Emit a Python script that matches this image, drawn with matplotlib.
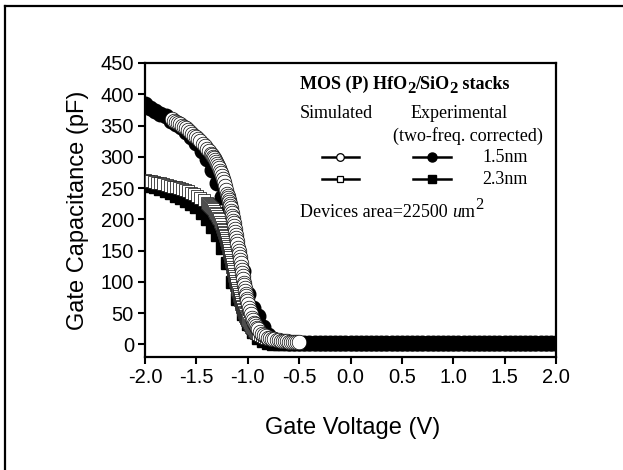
import matplotlib
matplotlib.use("Agg")
import matplotlib.pyplot as plt
from matplotlib.lines import Line2D

# ---- data -------------------------------------------------------------
# Simulated C-V, 1.5 nm stack (open circles); the solver output is denser
# where the curve is steep.
sim15_v = [-1.74, -1.72, -1.70, -1.68, -1.66, -1.64, -1.62, -1.60, -1.58, -1.56,
           -1.54, -1.52, -1.50, -1.48, -1.46, -1.44, -1.42, -1.40, -1.38, -1.36,
           -1.35, -1.34, -1.33, -1.32, -1.31, -1.30, -1.29, -1.28, -1.27, -1.26,
           -1.25, -1.24, -1.23, -1.22, -1.21,
           -1.200, -1.195, -1.190, -1.185, -1.180, -1.175, -1.170, -1.165, -1.160, -1.155,
           -1.150, -1.145, -1.140, -1.135, -1.130, -1.125, -1.120, -1.115, -1.110, -1.105,
           -1.100, -1.095, -1.090, -1.085, -1.080, -1.075, -1.070, -1.065, -1.060, -1.055,
           -1.050, -1.045, -1.040, -1.035, -1.030, -1.025, -1.020, -1.015, -1.010, -1.005,
           -1.000,
           -0.99, -0.98, -0.97, -0.96, -0.95, -0.94, -0.93, -0.92, -0.91, -0.90,
           -0.88, -0.86, -0.84, -0.82, -0.80, -0.78, -0.76, -0.74, -0.72, -0.70,
           -0.68, -0.66, -0.64, -0.62, -0.60, -0.58, -0.56, -0.54, -0.52, -0.50]
sim15_c = [360, 358, 356, 354, 352, 350, 348, 346, 343, 340,
           337, 334, 331, 328, 325, 321, 317, 313, 309, 305,
           302.5, 300, 297.5, 295, 292, 289, 285.5, 282, 278, 274,
           269.5, 265, 259.5, 254, 247.5,
           241, 237.8, 234.5, 231.3, 228, 224.5, 221, 217.5, 214, 210,
           206, 202, 198, 193.5, 189, 184.5, 180, 175, 170, 165,
           160, 155, 150, 145, 140, 134.8, 129.5, 124.3, 119, 114,
           109, 104, 99, 94.5, 90, 85.5, 81, 77, 73, 69,
           65,
           59, 53, 48, 43, 39, 35, 32, 29, 26.5, 24,
           20, 17, 15, 13, 11, 10, 9, 8, 7, 6.5,
           6, 5.5, 5, 5, 4.5, 4, 4, 4, 3.5, 3.5]

# Simulated C-V, 2.3 nm stack (open squares)
sim23_v = [-2.00, -1.97, -1.94, -1.91, -1.88, -1.85, -1.82, -1.79, -1.76, -1.73,
           -1.70, -1.67, -1.64, -1.61, -1.58, -1.55, -1.52, -1.49, -1.46, -1.43,
           -1.40,
           -1.39, -1.38, -1.37, -1.36, -1.35, -1.34, -1.33, -1.32, -1.31, -1.30,
           -1.29, -1.28, -1.27, -1.26, -1.25,
           -1.245, -1.240, -1.235, -1.230, -1.225, -1.220, -1.215, -1.210, -1.205, -1.200,
           -1.195, -1.190, -1.185, -1.180, -1.175, -1.170, -1.165, -1.160, -1.155, -1.150,
           -1.145, -1.140, -1.135, -1.130, -1.125, -1.120, -1.115, -1.110, -1.105, -1.100,
           -1.095, -1.090, -1.085, -1.080, -1.075, -1.070, -1.065, -1.060, -1.055, -1.050,
           -1.045, -1.040, -1.035, -1.030, -1.025, -1.020, -1.015, -1.010, -1.005,
           -1.00, -0.99, -0.98, -0.97, -0.96, -0.95, -0.94, -0.93, -0.92, -0.91,
           -0.90,
           -0.88, -0.86, -0.84, -0.82, -0.80, -0.78, -0.76, -0.74, -0.72, -0.70,
           -0.68, -0.66, -0.64, -0.62, -0.60, -0.58, -0.56, -0.54, -0.52]
sim23_c = [263, 262, 261, 259.5, 258.5, 257.5, 256, 254.5, 253.5, 252.5,
           251, 249.5, 248, 246.5, 245, 242.5, 240, 237, 234, 230.5,
           226,
           224.5, 223, 221.5, 220, 218, 216, 213.5, 211, 208.5, 206,
           203, 200, 196, 192, 187.5,
           185.3, 183, 180.5, 178, 175.5, 173, 170, 167, 164, 161,
           157.5, 154, 150.5, 147, 143.3, 139.5, 135.8, 132, 128.3, 124.5,
           120.8, 117, 113.3, 109.5, 105.8, 102, 98.3, 94.5, 90.8, 87,
           83.8, 80.5, 77.3, 74, 71, 68, 65, 62, 59.5, 57,
           54.5, 52, 50, 48, 46, 44, 42.3, 40.5, 38.8,
           37, 34, 31, 28.5, 26, 24, 22, 20.5, 19, 18,
           17,
           15, 13, 12, 11, 10, 9, 8, 7.5, 7, 6.5,
           6, 5.5, 5, 4.5, 4, 4, 3.5, 3.5, 3]

# Measured C-V (two-frequency corrected), 50 mV steps
exp_v = [-2.00, -1.95, -1.90, -1.85, -1.80, -1.75, -1.70, -1.65, -1.60, -1.55,
         -1.50, -1.45, -1.40, -1.35, -1.30, -1.25, -1.20, -1.15, -1.10, -1.05,
         -1.00, -0.95, -0.90, -0.85, -0.80, -0.75, -0.70, -0.65, -0.60, -0.55,
         -0.50, -0.45, -0.40, -0.35, -0.30, -0.25, -0.20, -0.15, -0.10, -0.05,
         0.00, 0.05, 0.10, 0.15, 0.20, 0.25, 0.30, 0.35, 0.40, 0.45,
         0.50, 0.55, 0.60, 0.65, 0.70, 0.75, 0.80, 0.85, 0.90, 0.95,
         1.00, 1.05, 1.10, 1.15, 1.20, 1.25, 1.30, 1.35, 1.40, 1.45,
         1.50, 1.55, 1.60, 1.65, 1.70, 1.75, 1.80, 1.85, 1.90, 1.95,
         2.00]
exp15_c = [385, 378, 373, 369, 366, 358, 353, 347, 340, 331,
           322, 310, 296, 279, 258, 235, 212, 185, 155, 117,
           80, 58, 46, 28, 15, 8, 5, 4, 3, 3,
           3, 3, 2.5, 2.5, 2.5, 2.5, 2.5, 2.5, 2.5, 2.5,
           2.5, 2.5, 2.5, 2.5, 2.5, 2.5, 2.5, 2.5, 2.5, 2.5,
           2.5, 2.5, 2.5, 2.5, 2.5, 2.5, 2.5, 2.5, 2.5, 2.5,
           2.5, 2.5, 2.5, 2.5, 2.5, 2.5, 2.5, 2.5, 2.5, 2.5,
           2.5, 2.5, 2.5, 2.5, 2.5, 2.5, 2.5, 2.5, 2.5, 2.5,
           2.5]
exp23_c = [256, 254, 252, 249, 246, 242, 238, 234, 230, 225,
           219, 210, 200, 188, 175, 155, 130, 100, 72, 48,
           32, 20, 11, 6, 3, 1.5, 1, 1, 1, 1,
           1, 1, 1, 1, 1, 1, 1, 1, 1, 1,
           1, 1, 1, 1, 1, 1, 1, 1, 1, 1,
           1, 1, 1, 1, 1, 1, 1, 1, 1, 1,
           1, 1, 1, 1, 1, 1, 1, 1, 1, 1,
           1, 1, 1, 1, 1, 1, 1, 1, 1, 1,
           1]

x_ticks = [-2.0, -1.5, -1.0, -0.5, 0.0, 0.5, 1.0, 1.5, 2.0]
y_ticks = [0, 50, 100, 150, 200, 250, 300, 350, 400, 450]

# ---- style -------------------------------------------------------------
W, H = 623, 470
plt.rcParams.update({
    "font.family": ["Liberation Sans", "DejaVu Sans"],
})
SERIF = ["Liberation Serif", "DejaVu Serif"]
LEG_FS = 13

fig = plt.figure(figsize=(W / 100, H / 100), dpi=100)
fig.patch.set_facecolor("white")


def fx(px):
    return px / W


def fy(py):
    return 1 - py / H


# page frame (top and left edges)
fig.add_artist(Line2D([fx(5), fx(W)], [fy(6), fy(6)], transform=fig.transFigure,
                      color="black", lw=1.6))
fig.add_artist(Line2D([fx(5), fx(5)], [fy(6), fy(H)], transform=fig.transFigure,
                      color="black", lw=1.6))

ax = fig.add_axes([fx(145), fy(357), fx(556) - fx(145), fy(63) - fy(357)])

ax.plot(exp_v, exp23_c, ls="none", marker="s", ms=9, mfc="black", mec="black", zorder=2)
ax.plot(exp_v, exp15_c, ls="none", marker="o", ms=10.5, mfc="black", mec="black", zorder=3)
ax.plot(sim23_v, sim23_c, ls="none", marker="s", ms=8, mfc="white", mec="black",
        mew=0.5, zorder=4)
ax.plot(sim15_v, sim15_c, ls="none", marker="o", ms=10.5, mfc="white", mec="black",
        mew=0.5, zorder=5)

ax.set_xlim(-2.0, 2.0)
ax.set_ylim(-20, 450)
ax.set_xticks(x_ticks)
ax.set_yticks(y_ticks)
ax.set_xticklabels([f"{t:.1f}" for t in x_ticks])
ax.set_yticklabels([str(t) for t in y_ticks])
ax.tick_params(direction="out", length=5, width=1.5, labelsize=14.5, pad=3)
for s in ax.spines.values():
    s.set_linewidth(1.6)

fig.text(fx(353), fy(428), "Gate Voltage (V)", ha="center", va="center", fontsize=17)
fig.text(fx(78), fy(210), "Gate Capacitance (pF)", ha="center", va="center",
         rotation=90, fontsize=17)

# ---- legend block ------------------------------------------------------
renderer = fig.canvas.get_renderer()


def run_text(x_px, base_px, pieces):
    """Place a sequence of (text, dy_px, size, weight, style) on one baseline."""
    x = x_px
    for s, dy, size, weight, style in pieces:
        t = fig.text(fx(x), fy(base_px + dy), s, family=SERIF, fontsize=size,
                     fontweight=weight, fontstyle=style, va="baseline", ha="left")
        bb = t.get_window_extent(renderer)
        x += bb.width


run_text(300, 89, [("MOS (P) HfO", 0, LEG_FS, "bold", "normal"),
                   ("2", 4, 12, "bold", "normal"),
                   ("/SiO", 0, LEG_FS, "bold", "normal"),
                   ("2", 4, 12, "bold", "normal"),
                   (" stacks", 0, LEG_FS, "bold", "normal")])

fig.text(fx(300), fy(118), "Simulated", family=SERIF, fontsize=LEG_FS, va="baseline")
fig.text(fx(411), fy(118), "Experimental", family=SERIF, fontsize=LEG_FS, va="baseline")
fig.text(fx(393), fy(141), "(two-freq. corrected)", family=SERIF, fontsize=LEG_FS,
         va="baseline")

rows = [(157, "o", "1.5nm", 5.5, 6.5), (179, "s", "2.3nm", 4.5, 6.0)]
for ypx, mk, lab, ms_open, ms_fill in rows:
    fig.add_artist(Line2D([fx(322), fx(359)], [fy(ypx), fy(ypx)], transform=fig.transFigure,
                          color="black", lw=1.8, zorder=3))
    fig.add_artist(Line2D([fx(340)], [fy(ypx)], transform=fig.transFigure, ls="none",
                          marker=mk, ms=ms_open, mfc="white", mec="black", mew=0.9, zorder=4))
    fig.add_artist(Line2D([fx(413), fx(451)], [fy(ypx), fy(ypx)], transform=fig.transFigure,
                          color="black", lw=1.8, zorder=3))
    fig.add_artist(Line2D([fx(432)], [fy(ypx)], transform=fig.transFigure, ls="none",
                          marker=mk, ms=ms_fill, mfc="black", mec="black", zorder=4))
    fig.text(fx(482), fy(ypx + 5), lab, family=SERIF, fontsize=LEG_FS, va="baseline")

run_text(300, 217, [("Devices area=22500 ", 0, LEG_FS, "normal", "normal"),
                    ("u", 0, LEG_FS, "normal", "italic"),
                    ("m", 0, LEG_FS, "normal", "normal"),
                    ("2", -8, 12, "normal", "normal")])

fig.savefig("out.png", dpi=100, facecolor="white")
